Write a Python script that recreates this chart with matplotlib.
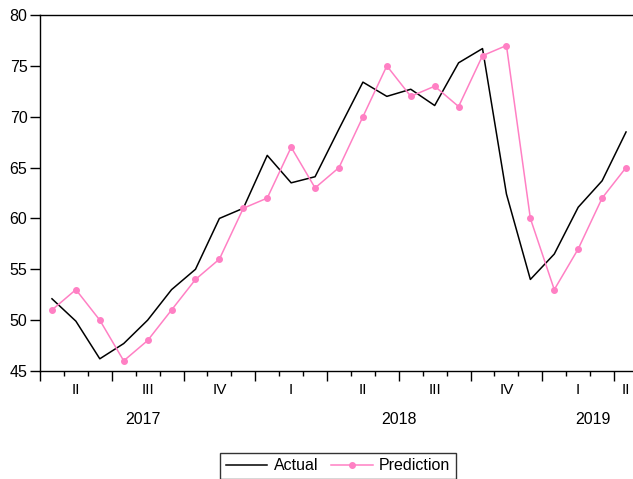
import matplotlib
matplotlib.use("Agg")
import matplotlib.pyplot as plt
from matplotlib.ticker import MultipleLocator, NullFormatter
import numpy as np

# monthly values, Apr 2017 .. Apr 2019
actual = [52.1, 49.9, 46.2, 47.7, 50.0, 53.0, 55.0, 60.0, 61.0, 66.2,
          63.5, 64.1, 68.8, 73.4, 72.0, 72.7, 71.1, 75.3, 76.7, 62.4,
          54.0, 56.5, 61.1, 63.7, 68.5]
prediction = [51, 53, 50, 46, 48, 51, 54, 56, 61, 62,
              67, 63, 65, 70, 75, 72, 73, 71, 76, 77,
              60, 53, 57, 62, 65]

quarter_labels = ["II", "III", "IV", "I", "II", "III", "IV", "I", "II"]
quarter_pos = [1.5, 4.5, 7.5, 10.5, 13.5, 16.5, 19.5, 22.5, 24.5]
year_labels = ["2017", "2018", "2019"]
year_pos = [4.3, 15.0, 23.1]

plt.rcParams['font.family'] = ['Liberation Sans', 'DejaVu Sans']

fig = plt.figure(figsize=(6.33, 4.79), dpi=100)
W, H = 633, 479
ax = fig.add_axes([40 / W, 1 - 371 / H, (638 - 40) / W, (371 - 15) / H])

x = np.arange(len(actual)) + 0.5
ax.plot(x, actual, color="black", lw=1.1, label="Actual")
ax.plot(x, prediction, color="#ff80c4", lw=1.1, marker="o", ms=4,
        label="Prediction")

ax.set_xlim(0, 25)
ax.set_ylim(45, 80)
ax.yaxis.set_major_locator(MultipleLocator(5))
ax.xaxis.set_major_locator(MultipleLocator(3))
ax.xaxis.set_minor_locator(MultipleLocator(1))
ax.xaxis.set_major_formatter(NullFormatter())
ax.tick_params(axis="y", direction="out", length=7, width=1, labelsize=11.5, pad=2)
ax.tick_params(axis="x", which="major", direction="out", length=7, width=1)
ax.tick_params(axis="x", which="minor", direction="out", length=3.5, width=1)
ax.spines["right"].set_visible(False)
for s in ["top", "left", "bottom"]:
    ax.spines[s].set_linewidth(1.0)

trans = ax.get_xaxis_transform()
for p, lab in zip(quarter_pos, quarter_labels):
    ax.text(p, -19 / 356, lab, transform=trans, ha="center", va="center",
            fontsize=11)
for p, lab in zip(year_pos, year_labels):
    ax.text(p, -49 / 356, lab, transform=trans, ha="center", va="center",
            fontsize=11.5)

leg = fig.legend(loc="center", bbox_to_anchor=(338 / W, 1 - 466 / H), ncol=2,
                 fontsize=11.5, frameon=True, fancybox=False, edgecolor="black",
                 handlelength=2.6, columnspacing=0.8, handletextpad=0.4,
                 borderpad=0.35)
leg.get_frame().set_linewidth(1.0)

fig.savefig("out.png", dpi=100)
